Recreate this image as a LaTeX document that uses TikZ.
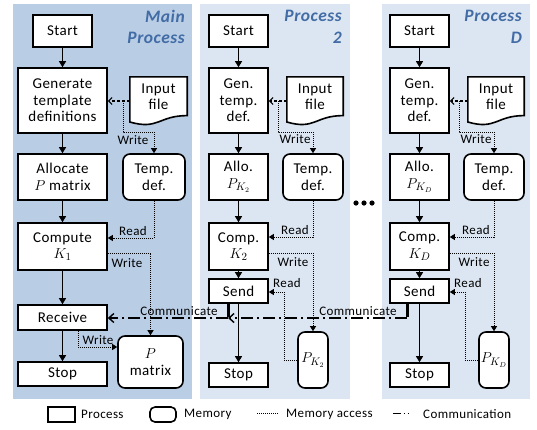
\documentclass[tikz,border=0pt]{standalone}
\usepackage{fontspec}
\setmainfont{Carlito}[LetterSpace=3]
\usetikzlibrary{arrows.meta,calc}
\definecolor{mainbg}{RGB}{185,205,229}
\definecolor{procbg}{RGB}{220,230,242}
\definecolor{titleblue}{RGB}{66,108,165}
\newcommand\bxfont{\fontsize{15}{16.5}\selectfont}
\newcommand\lbfont{\fontsize{13}{14}\selectfont}
\newcommand\lgfont{\fontsize{13}{14}\selectfont}
\newcommand\ttfont{\fontsize{17.5}{20}\selectfont\bfseries\itshape}
\tikzset{
  pbox/.style={draw, line width=1.6pt, fill=white, align=center, inner sep=0pt, font=\bxfont},
  mbox/.style={pbox, rounded corners=7pt},
  flow/.style={line width=1.1pt, -{Triangle[length=6pt,width=7pt]}},
  mem/.style={line width=0.9pt, dash pattern=on 1pt off 1pt, -{Triangle[length=5pt,width=6pt]}},
  memnt/.style={line width=0.9pt, dash pattern=on 1pt off 1pt},
  feed/.style={line width=1.1pt, dash pattern=on 3pt off 2pt, -{Straight Barb[length=3.5pt,width=7pt]}},
  comm/.style={line width=1.4pt, dash pattern=on 12pt off 4pt on 2pt off 4pt},
  bar/.style={line width=3pt},
  lbl/.style={font=\lbfont, inner sep=0pt},
  lgd/.style={font=\lgfont, inner sep=0pt, anchor=west},
  ttl/.style={font=\ttfont, text=titleblue, anchor=east, inner sep=0pt},
  dot/.style={fill=black}
}
\newcommand\docshape[1]{%
  \draw[line width=1.6pt, fill=white] (#1.north west) -- (#1.north east) -- ($(#1.south east)+(0,-9.6)$)
    .. controls ($(#1.south)+(0,-9.6)$) and ($(#1.south)+(0,5)$) .. ($(#1.south west)+(0,-3.2)$) -- cycle;}
\begin{document}
\begin{tikzpicture}[x=1pt,y=-1pt]
\useasboundingbox (0,0) rectangle (537,429);
% panels
\fill[mainbg] (13,4) rectangle (192,399);
\fill[procbg] (200,4) rectangle (350,399);
\fill[procbg] (382,4) rectangle (530,399);
% titles
\node[ttl] (t1a) at (185,16) {Main};
\node[ttl] (t1b) at (185,37.5) {Process};
\node[ttl] (t2a) at (342,15.5) {Process};
\node[ttl] (t2b) at (342,37.5) {2};
\node[ttl] (t3a) at (522,15.5) {Process};
\node[ttl] (t3b) at (522,37.5) {D};

% ===== main process =====
\node[pbox, minimum width=59pt, minimum height=32pt] (st1) at (62.5,31) {Start};
\node[pbox, minimum width=89pt, minimum height=65pt] (gn1) at (62.5,100.5) {Generate\\template\\definitions};
\node[pbox, minimum width=89pt, minimum height=46pt] (al1) at (62.5,177) {Allocate\\$P$ matrix};
\node[pbox, minimum width=89pt, minimum height=47pt] (cp1) at (62.5,246.5) {Compute\\$K_1$};
\node[pbox, minimum width=89pt, minimum height=25pt] (rc1) at (62.5,317.5) {Receive};
\node[pbox, minimum width=89pt, minimum height=24pt] (sp1) at (62.5,374) {Stop};
\node[minimum width=57pt, minimum height=48pt, inner sep=0pt] (in1) at (158.5,101) {};
\docshape{in1}
\node[align=center, font=\bxfont, inner sep=0pt] (in1t) at (158.5,96.5) {Input\\file};
\node[mbox, minimum width=62pt, minimum height=46pt] (td1) at (154,177) {Temp.\\def.};
\node[mbox, minimum width=65pt, minimum height=52pt] (pm1) at (150.5,362) {$P$\\matrix};

\draw[flow] (st1) -- (gn1);
\draw[flow] (gn1) -- (al1);
\draw[flow] (al1) -- (cp1);
\draw[flow] (cp1) -- (rc1);
\draw[flow] (rc1) -- (sp1);
\draw[feed] (in1.west) -- (gn1.east |- in1.west);
\coordinate (j1) at (123,101);
\draw[mem] (j1) -- (123,132) -- (td1.north |- 0,132) -- (td1.north);
\node[lbl] (w1a) at (133,140) {Write};
\draw[mem] (td1.south) -- (td1.south |- 0,238) -- (cp1.east |- 0,238);
\node[lbl] (r1a) at (133,231) {Read};
\draw[mem] (cp1.east |- 0,253) -| (pm1.north);
\node[lbl] (w1b) at (127,263) {Write};
\draw[mem] (rc1.south -| 78,0) -- (78,347) -- (pm1.west |- 0,347);
\node[lbl] (w1c) at (98,340.5) {Write};

% ===== process 2 =====
\node[pbox, minimum width=59pt, minimum height=32pt] (st2) at (238.5,31) {Start};
\node[pbox, minimum width=59pt, minimum height=65pt] (gn2) at (238.5,100.5) {Gen.\\temp.\\def.};
\node[pbox, minimum width=59pt, minimum height=46pt] (al2) at (238.5,177) {Allo.\\$P_{K_2}$};
\node[pbox, minimum width=59pt, minimum height=47pt] (cp2) at (238.5,246.5) {Comp.\\$K_2$};
\node[pbox, minimum width=59pt, minimum height=24pt] (sd2) at (238.5,291) {Send};
\node[pbox, minimum width=59pt, minimum height=24pt] (sp2) at (238.5,375) {Stop};
\node[minimum width=56pt, minimum height=48pt, inner sep=0pt] (in2) at (315,101) {};
\docshape{in2}
\node[align=center, font=\bxfont, inner sep=0pt] (in2t) at (315,96.5) {Input\\file};
\node[mbox, minimum width=60pt, minimum height=46pt] (td2) at (313,177) {Temp.\\def.};
\node[mbox, minimum width=30pt, minimum height=56pt] (pk2) at (313,360) {$P_{K_2}$};

\draw[flow] (st2) -- (gn2);
\draw[flow] (gn2) -- (al2);
\draw[flow] (al2) -- (cp2);
\draw[flow] (cp2) -- (sd2);
\draw[flow] (sd2) -- (sp2);
\draw[feed] (in2.west) -- (gn2.east |- in2.west);
\coordinate (j2) at (278,101);
\draw[mem] (j2) -- (278,132) -- (td2.north |- 0,132) -- (td2.north);
\node[lbl] (w2a) at (295,139) {Write};
\draw[mem] (td2.south) -- (td2.south |- 0,237) -- (cp2.east |- 0,237);
\node[lbl] (r2a) at (295,230) {Read};
\draw[mem] (cp2.east |- 0,253) -| (pk2.north);
\node[lbl] (w2b) at (293,262) {Write};
\draw[mem] (pk2.west) -- (284,360) -- (284,292) -- (sd2.east |- 0,292);
\node[lbl] (r2b) at (287,283) {Read};

% ===== process D =====
\node[pbox, minimum width=59pt, minimum height=32pt] (st3) at (419.5,31) {Start};
\node[pbox, minimum width=59pt, minimum height=65pt] (gn3) at (419.5,100.5) {Gen.\\temp.\\def.};
\node[pbox, minimum width=59pt, minimum height=46pt] (al3) at (419.5,177) {Allo.\\$P_{K_D}$};
\node[pbox, minimum width=59pt, minimum height=47pt] (cp3) at (419.5,246.5) {Comp.\\$K_D$};
\node[pbox, minimum width=59pt, minimum height=24pt] (sd3) at (419.5,291) {Send};
\node[pbox, minimum width=59pt, minimum height=24pt] (sp3) at (419.5,375) {Stop};
\node[minimum width=56pt, minimum height=48pt, inner sep=0pt] (in3) at (496,101) {};
\docshape{in3}
\node[align=center, font=\bxfont, inner sep=0pt] (in3t) at (496,96.5) {Input\\file};
\node[mbox, minimum width=60pt, minimum height=46pt] (td3) at (494,177) {Temp.\\def.};
\node[mbox, minimum width=30pt, minimum height=56pt] (pk3) at (494,360) {$P_{K_D}$};

\draw[flow] (st3) -- (gn3);
\draw[flow] (gn3) -- (al3);
\draw[flow] (al3) -- (cp3);
\draw[flow] (cp3) -- (sd3);
\draw[flow] (sd3) -- (sp3);
\draw[feed] (in3.west) -- (gn3.east |- in3.west);
\coordinate (j3) at (459,101);
\draw[mem] (j3) -- (459,132) -- (td3.north |- 0,132) -- (td3.north);
\node[lbl] (w3a) at (476,139) {Write};
\draw[mem] (td3.south) -- (td3.south |- 0,237) -- (cp3.east |- 0,237);
\node[lbl] (r3a) at (476,230) {Read};
\draw[mem] (cp3.east |- 0,253) -| (pk3.north);
\node[lbl] (w3b) at (474,262) {Write};
\draw[mem] (pk3.west) -- (465,360) -- (465,292) -- (sd3.east |- 0,292);
\node[lbl] (r3b) at (468,283) {Read};

% ===== communication =====
\coordinate (b2) at (228,318);
\coordinate (b3) at (407,318);
\draw[bar] (sd2.south -| b2) -- ($(b2)+(0,-1)$);
\draw[bar] (sd3.south -| b3) -- ($(b3)+(0,-1)$);
\draw[comm, -{Straight Barb[length=5pt,width=9pt]}] (b2) -- (b2 -| rc1.east);
\draw[comm, -{Straight Barb[length=5pt,width=9pt]}] (b3) -- (b2);
\node[lbl] (c1) at (179,311) {Communicate};
\node[lbl] (c2) at (358,311) {Communicate};

% dots
\fill[dot] (356,203) circle (2.6);
\fill[dot] (364,203) circle (2.6);
\fill[dot] (372,203) circle (2.6);

% ===== legend =====
\node[draw, line width=1.6pt, minimum width=27pt, minimum height=15pt, inner sep=0pt] (lg1) at (61.5,414.5) {};
\node[lgd] (lg1t) at (81,414.5) {Process};
\node[draw, line width=1.6pt, rounded corners=5pt, minimum width=26pt, minimum height=15pt, inner sep=0pt] (lg2) at (163,414.5) {};
\node[lgd] (lg2t) at (184,414.5) {Memory};
\coordinate (lg3a) at (257,413);
\coordinate (lg3b) at (279,413);
\draw[memnt] (lg3a) -- (lg3b);
\node[lgd] (lg3t) at (286,414.5) {Memory access};
\coordinate (lg4a) at (393,413);
\coordinate (lg4b) at (411,413);
\draw[line width=1pt, dash pattern=on 8pt off 2.5pt on 1.5pt off 2.5pt on 1.5pt off 4pt] (lg4a) -- (lg4b);
\node[lgd] (lg4t) at (423,414.5) {Communication};
\end{tikzpicture}
\end{document}
